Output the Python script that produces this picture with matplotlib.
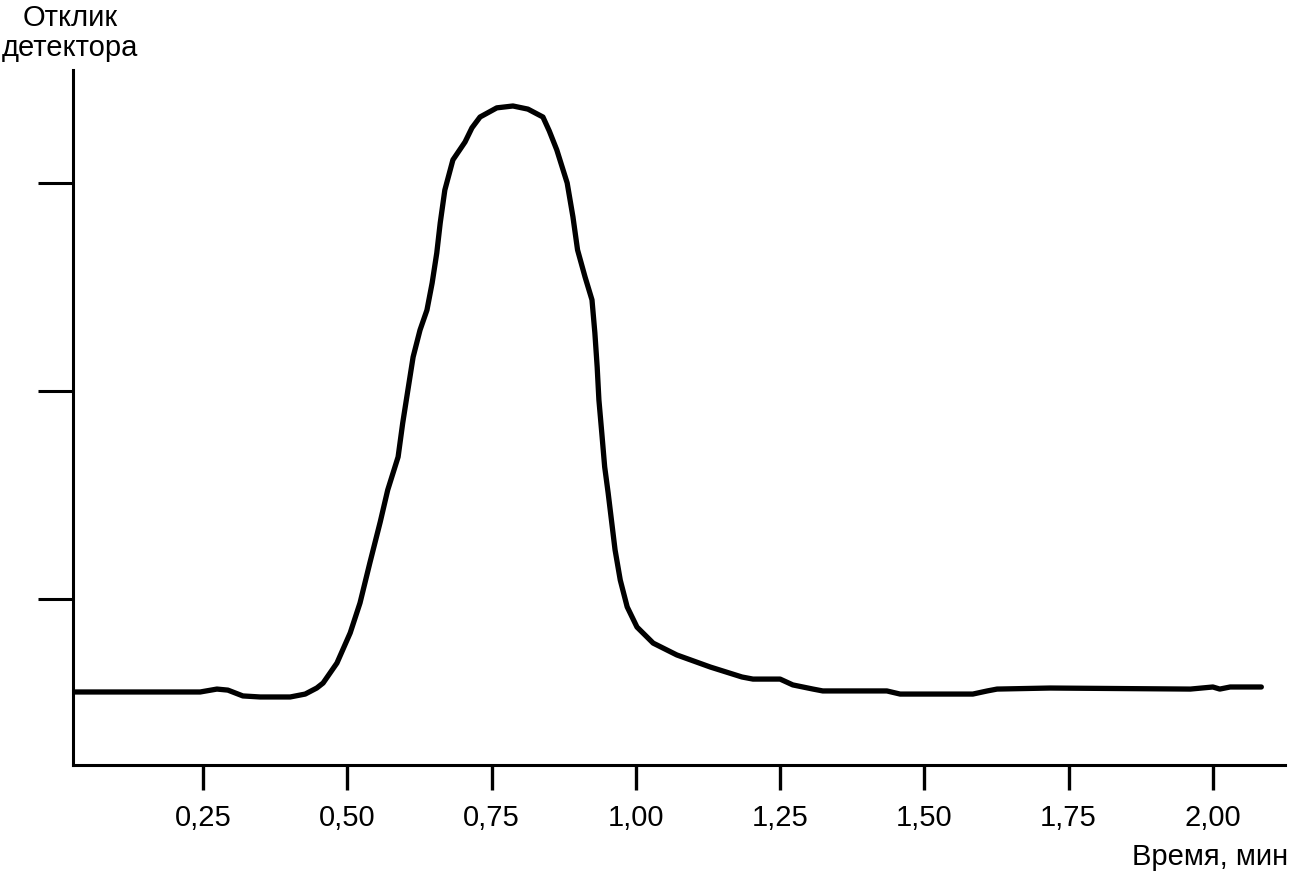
import matplotlib.pyplot as plt

plt.rcParams['font.family'] = ['Liberation Sans', 'DejaVu Sans']

# chromatogram trace
time_min = [0.028, 0.245, 0.274, 0.293, 0.319, 0.349, 0.401, 0.427, 0.447, 0.458,
            0.482, 0.505, 0.522, 0.539, 0.557, 0.570, 0.588, 0.596, 0.605, 0.614,
            0.626, 0.638, 0.647, 0.655, 0.661, 0.669, 0.683, 0.704, 0.716, 0.730,
            0.759, 0.787, 0.813, 0.839, 0.850, 0.863, 0.881, 0.891, 0.899, 0.912,
            0.924, 0.929, 0.933, 0.936, 0.941, 0.946, 0.952, 0.964, 0.973, 0.985,
            1.002, 1.030, 1.071, 1.129, 1.184, 1.203, 1.250, 1.272, 1.307, 1.324,
            1.435, 1.458, 1.584, 1.609, 1.626, 1.718, 1.961, 2.000, 2.012, 2.030,
            2.084]
response = [0.553, 0.553, 0.567, 0.562, 0.534, 0.529, 0.529, 0.543, 0.572, 0.596,
            0.692, 0.837, 0.981, 1.173, 1.370, 1.524, 1.683, 1.846, 2.005, 2.163,
            2.293, 2.389, 2.519, 2.663, 2.808, 2.966, 3.111, 3.197, 3.265, 3.317,
            3.361, 3.370, 3.355, 3.317, 3.250, 3.159, 3.000, 2.837, 2.678, 2.548,
            2.438, 2.279, 2.115, 1.957, 1.798, 1.635, 1.510, 1.236, 1.091, 0.962,
            0.865, 0.788, 0.731, 0.673, 0.625, 0.615, 0.615, 0.587, 0.567, 0.558,
            0.558, 0.543, 0.543, 0.558, 0.567, 0.572, 0.567, 0.577, 0.567, 0.577,
            0.577]

xticks = [0.25, 0.50, 0.75, 1.00, 1.25, 1.50, 1.75, 2.00]
xticklabels = ['0,25', '0,50', '0,75', '1,00', '1,25', '1,50', '1,75', '2,00']
yticks = [1, 2, 3]

W, H = 1291, 874
fig = plt.figure(figsize=(W / 100, H / 100), dpi=100)
ax = fig.add_axes([73 / W, (H - 765) / H, (1285 - 73) / W, (765 - 70) / H])

ax.plot(time_min, response, color='black', lw=3.8, solid_joinstyle='round',
        solid_capstyle='round')

ax.set_xlim(0.0246, 2.125)
ax.set_ylim(0.202, 3.543)

for side in ['top', 'right']:
    ax.spines[side].set_visible(False)
for side in ['left', 'bottom']:
    ax.spines[side].set_linewidth(2.2)

ax.set_xticks(xticks)
ax.set_xticklabels(xticklabels, fontsize=21)
ax.set_yticks(yticks)
ax.set_yticklabels([])
ax.tick_params(axis='x', direction='out', length=18, width=2.4, pad=10)
ax.tick_params(axis='y', direction='out', length=25, width=2.2)

fig.text(70 / W, 1 - 33 / H, 'Отклик\nдетектора', fontsize=21, ha='center',
         va='center', linespacing=1.05)
fig.text(1288 / W, 1 - 857 / H, 'Время, мин', fontsize=21, ha='right', va='center')

fig.savefig('out.png', dpi=100)
